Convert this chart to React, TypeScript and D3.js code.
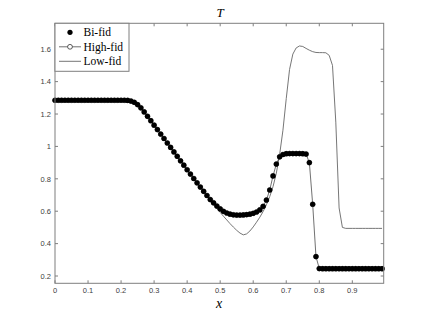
import React from "react";
import * as d3 from "d3";

const width = 424;
const height = 318;
const margin = { top: 23.3, right: 40.3, bottom: 34.7, left: 55 };

// grid x = 0, 0.01, ... 0.99
const xGrid = [
  0.00, 0.01, 0.02, 0.03, 0.04, 0.05, 0.06, 0.07, 0.08, 0.09,
  0.10, 0.11, 0.12, 0.13, 0.14, 0.15, 0.16, 0.17, 0.18, 0.19,
  0.20, 0.21, 0.22, 0.23, 0.24, 0.25, 0.26, 0.27, 0.28, 0.29,
  0.30, 0.31, 0.32, 0.33, 0.34, 0.35, 0.36, 0.37, 0.38, 0.39,
  0.40, 0.41, 0.42, 0.43, 0.44, 0.45, 0.46, 0.47, 0.48, 0.49,
  0.50, 0.51, 0.52, 0.53, 0.54, 0.55, 0.56, 0.57, 0.58, 0.59,
  0.60, 0.61, 0.62, 0.63, 0.64, 0.65, 0.66, 0.67, 0.68, 0.69,
  0.70, 0.71, 0.72, 0.73, 0.74, 0.75, 0.76, 0.77, 0.78, 0.79,
  0.80, 0.81, 0.82, 0.83, 0.84, 0.85, 0.86, 0.87, 0.88, 0.89,
  0.90, 0.91, 0.92, 0.93, 0.94, 0.95, 0.96, 0.97, 0.98, 0.99,
];

const biFid = [
  1.285, 1.285, 1.285, 1.285, 1.285, 1.285, 1.285, 1.285, 1.285, 1.285,
  1.285, 1.285, 1.285, 1.285, 1.285, 1.285, 1.285, 1.285, 1.285, 1.285,
  1.285, 1.285, 1.284, 1.280, 1.272, 1.258, 1.238, 1.213, 1.186, 1.159,
  1.131, 1.104, 1.076, 1.049, 1.021, 0.994, 0.966, 0.939, 0.911, 0.884,
  0.856, 0.829, 0.802, 0.775, 0.749, 0.723, 0.697, 0.672, 0.652, 0.632,
  0.614, 0.599, 0.589, 0.582, 0.578, 0.576, 0.576, 0.577, 0.579, 0.582,
  0.587, 0.595, 0.608, 0.630, 0.669, 0.731, 0.818, 0.891, 0.936, 0.950,
  0.955, 0.956, 0.956, 0.956, 0.956, 0.955, 0.953, 0.900, 0.643, 0.320,
  0.246, 0.245, 0.245, 0.245, 0.245, 0.245, 0.245, 0.245, 0.245, 0.245,
  0.245, 0.245, 0.245, 0.245, 0.245, 0.245, 0.245, 0.245, 0.245, 0.245,
];

const highFid = [
  1.285, 1.285, 1.285, 1.285, 1.285, 1.285, 1.285, 1.285, 1.285, 1.285,
  1.285, 1.285, 1.285, 1.285, 1.285, 1.285, 1.285, 1.285, 1.285, 1.285,
  1.285, 1.285, 1.284, 1.280, 1.272, 1.258, 1.238, 1.213, 1.186, 1.159,
  1.131, 1.104, 1.076, 1.049, 1.021, 0.994, 0.966, 0.939, 0.911, 0.884,
  0.856, 0.829, 0.802, 0.775, 0.749, 0.723, 0.697, 0.672, 0.652, 0.632,
  0.614, 0.599, 0.589, 0.582, 0.578, 0.576, 0.576, 0.577, 0.579, 0.582,
  0.587, 0.595, 0.608, 0.630, 0.669, 0.731, 0.818, 0.891, 0.936, 0.950,
  0.955, 0.956, 0.956, 0.956, 0.956, 0.955, 0.953, 0.900, 0.643, 0.320,
  0.246, 0.245, 0.245, 0.245, 0.245, 0.245, 0.245, 0.245, 0.245, 0.245,
  0.245, 0.245, 0.245, 0.245, 0.245, 0.245, 0.245, 0.245, 0.245, 0.245,
];

const lowFid = [
  1.285, 1.285, 1.285, 1.285, 1.285, 1.285, 1.285, 1.285, 1.285, 1.285,
  1.285, 1.285, 1.285, 1.285, 1.285, 1.285, 1.285, 1.285, 1.285, 1.285,
  1.285, 1.285, 1.284, 1.280, 1.272, 1.258, 1.238, 1.213, 1.186, 1.159,
  1.131, 1.104, 1.076, 1.049, 1.021, 0.994, 0.966, 0.939, 0.911, 0.884,
  0.856, 0.829, 0.802, 0.775, 0.748, 0.721, 0.694, 0.668, 0.643, 0.618,
  0.593, 0.569, 0.546, 0.523, 0.502, 0.482, 0.465, 0.454, 0.460, 0.478,
  0.503, 0.532, 0.563, 0.598, 0.640, 0.690, 0.752, 0.835, 0.950, 1.100,
  1.295, 1.475, 1.570, 1.608, 1.620, 1.617, 1.605, 1.594, 1.585, 1.580,
  1.579, 1.579, 1.578, 1.562, 1.500, 1.150, 0.620, 0.500, 0.494, 0.494,
  0.494, 0.494, 0.494, 0.494, 0.494, 0.494, 0.494, 0.494, 0.494, 0.494,
];

const xTicks = [0, 0.1, 0.2, 0.3, 0.4, 0.5, 0.6, 0.7, 0.8, 0.9];
const yTicks = [0.2, 0.4, 0.6, 0.8, 1, 1.2, 1.4, 1.6];
const legendLabels = ["Bi-fid", "High-fid", "Low-fid"];

const axisColor = "#7f7f7f";
const tickFont = "'Liberation Sans', Arial, sans-serif";
const serif = "'Liberation Serif', 'Times New Roman', serif";

const fmt = (t: number) => String(+t.toFixed(1));

export default function App() {
  const innerWidth = width - margin.left - margin.right;
  const innerHeight = height - margin.top - margin.bottom;

  const xScale = d3.scaleLinear().domain([0, 0.995]).range([0, innerWidth]);
  const yScale = d3.scaleLinear().domain([0.155, 1.76]).range([innerHeight, 0]);

  const line = d3
    .line<number>()
    .x((_, i) => xScale(xGrid[i]))
    .y((d) => yScale(d));

  const tickLen = 3;

  return (
    <svg
      width={width}
      height={height}
      style={{ position: "absolute", left: 0, top: 0, background: "white" }}
    >
      <rect width={width} height={height} fill="white" />
      <text
        x={220}
        y={17}
        fontFamily={serif}
        fontStyle="italic"
        fontSize={13}
        textAnchor="middle"
        fill="#000"
      >
        T
      </text>
      <g transform={`translate(${margin.left}, ${margin.top})`}>
        {/* low-fid */}
        <path d={line(lowFid) || ""} fill="none" stroke="#666" strokeWidth={0.9} />
        {/* high-fid */}
        <path d={line(highFid) || ""} fill="none" stroke="#333" strokeWidth={0.7} />
        {highFid.map((v, i) => (
          <circle
            key={"h" + i}
            cx={xScale(xGrid[i])}
            cy={yScale(v)}
            r={2.4}
            fill="none"
            stroke="#333"
            strokeWidth={0.7}
          />
        ))}
        {/* bi-fid */}
        {biFid.map((v, i) => (
          <circle key={"b" + i} cx={xScale(xGrid[i])} cy={yScale(v)} r={2.6} fill="#000" />
        ))}

        {/* box */}
        <rect x={0} y={0} width={innerWidth} height={innerHeight} fill="none" stroke={axisColor} strokeWidth={1} />

        {xTicks.map((t) => (
          <g key={"x" + t}>
            <line x1={xScale(t)} x2={xScale(t)} y1={innerHeight} y2={innerHeight - tickLen} stroke={axisColor} />
            <line x1={xScale(t)} x2={xScale(t)} y1={0} y2={tickLen} stroke={axisColor} />
            <text
              x={xScale(t)}
              y={innerHeight + 10}
              fontSize={7.5}
              fontFamily={tickFont}
              fill="#404040"
              textAnchor="middle"
            >
              {fmt(t)}
            </text>
          </g>
        ))}

        {yTicks.map((t) => (
          <g key={"y" + t}>
            <line x1={0} x2={tickLen} y1={yScale(t)} y2={yScale(t)} stroke={axisColor} />
            <line x1={innerWidth} x2={innerWidth - tickLen} y1={yScale(t)} y2={yScale(t)} stroke={axisColor} />
            <text
              x={-4}
              y={yScale(t) + 2.7}
              fontSize={7.5}
              fontFamily={tickFont}
              fill="#404040"
              textAnchor="end"
            >
              {fmt(t)}
            </text>
          </g>
        ))}

        {/* legend */}
        <g>
          <rect x={0} y={0} width={74} height={48} fill="white" stroke={axisColor} strokeWidth={1} />
          {legendLabels.map((label, i) => {
            const cy = 9 + i * 14.5;
            return (
              <g key={label}>
                {i === 0 && <circle cx={15} cy={cy} r={2.6} fill="#000" />}
                {i === 1 && (
                  <g>
                    <line x1={4} x2={26} y1={cy} y2={cy} stroke="#333" strokeWidth={0.7} />
                    <circle cx={15} cy={cy} r={2.4} fill="white" stroke="#333" strokeWidth={0.8} />
                  </g>
                )}
                {i === 2 && <line x1={4} x2={26} y1={cy} y2={cy} stroke="#666" strokeWidth={0.9} />}
                <text x={28.5} y={cy + 3.8} fontSize={11.5} fontFamily={serif} fill="#000">
                  {label}
                </text>
              </g>
            );
          })}
        </g>
      </g>
      <text
        x={219}
        y={308}
        fontFamily={serif}
        fontStyle="italic"
        fontSize={14}
        textAnchor="middle"
        fill="#000"
      >
        x
      </text>
    </svg>
  );
}
